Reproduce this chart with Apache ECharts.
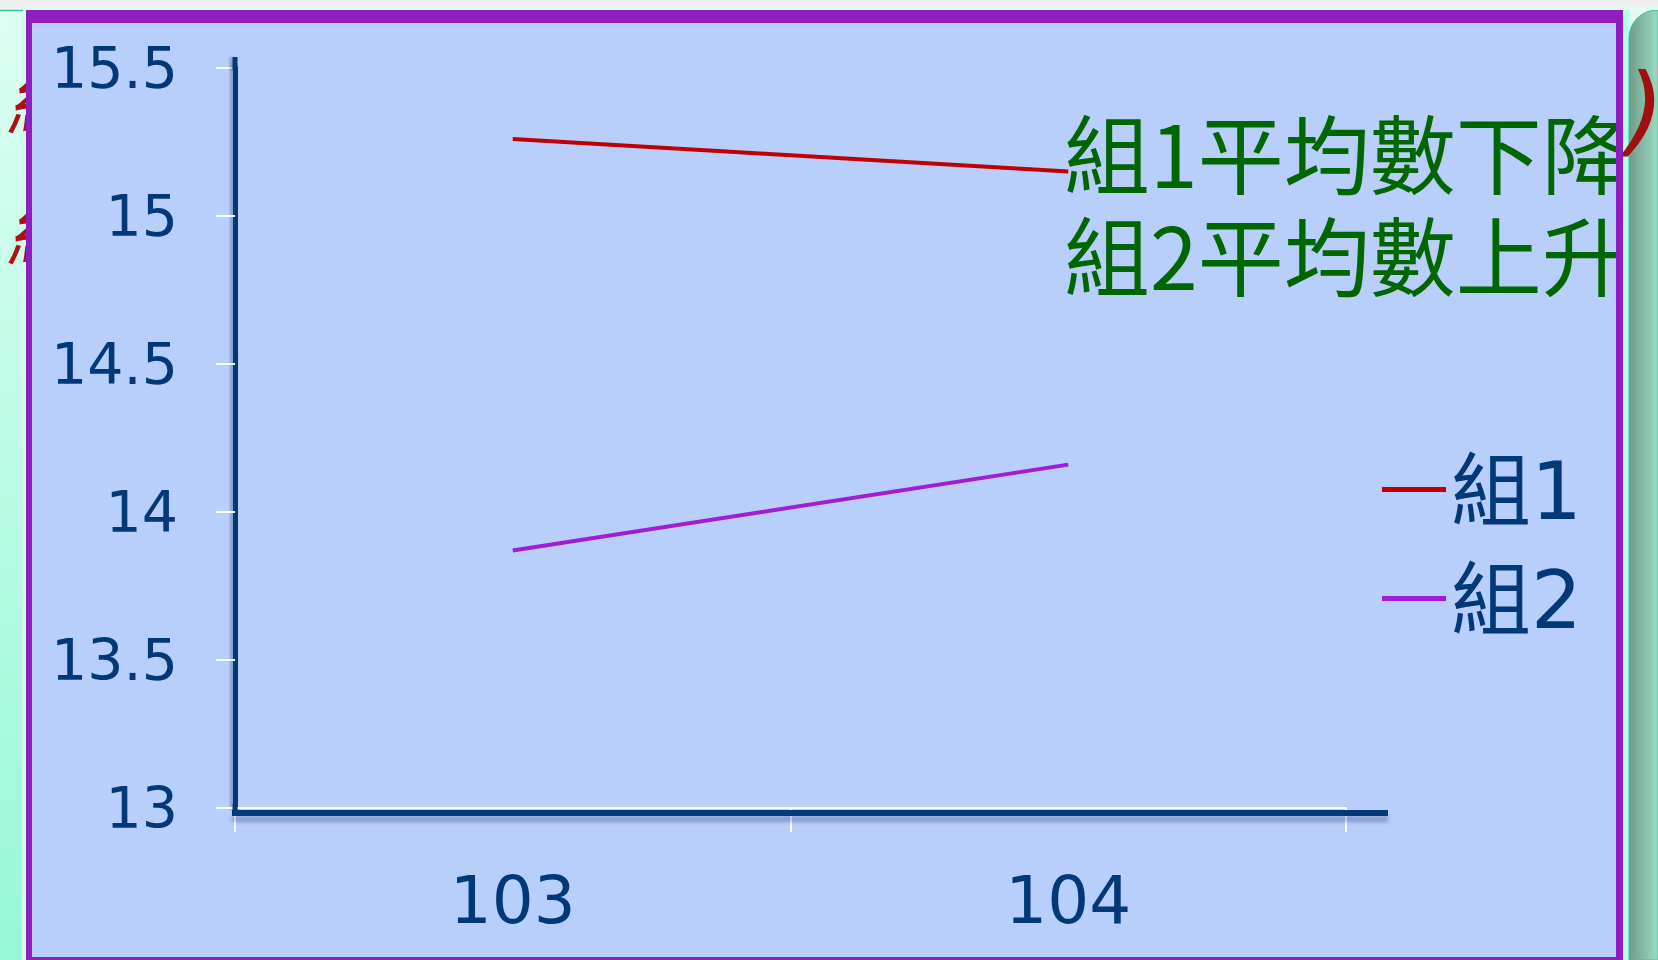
<!DOCTYPE html>
<html>
<head>
<meta charset="utf-8">
<script src="https://cdn.jsdelivr.net/npm/echarts@6/dist/echarts.min.js"></script>
<style>
html,body{margin:0;padding:0;background:#E4FAF0;}
#c{width:1658px;height:960px;}
</style>
</head>
<body>
<div id="c"></div>
<script>
// ---- data ----
const categories = ['103', '104'];
const seriesNames = ['組1', '組2'];
const group1 = [15.26, 15.15];
const group2 = [13.87, 14.16];
const yMin = 13, yMax = 15.5, yStep = 0.5;
const annotationLines = ['組1平均數下降', '組2平均數上升'];

const AXIS = '#003878';
const chart = echarts.init(document.getElementById('c'), null, {renderer: 'canvas'});

const option = {
  animation: false,
  backgroundColor: '#E4FAF0',
  grid: {left: 235, top: 68, width: 1111, height: 740, containLabel: false},
  xAxis: {
    type: 'category',
    data: categories,
    boundaryGap: true,
    axisLine: {show: true, lineStyle: {color: '#FFFFFF', width: 2}},
    axisTick: {show: true, length: 24, lineStyle: {color: '#FFFFFF', width: 2}},
    axisLabel: {fontSize: 66, fontFamily: 'DejaVu Sans', color: AXIS, margin: 65},
    splitLine: {show: false}
  },
  yAxis: {
    type: 'value',
    min: yMin, max: yMax, interval: yStep,
    axisLine: {show: true, lineStyle: {color: AXIS, width: 5,
      shadowColor: 'rgba(0,30,90,0.25)', shadowOffsetX: -3, shadowBlur: 2}},
    axisTick: {show: true, length: 19, lineStyle: {color: '#FFFFFF', width: 2}},
    axisLabel: {fontSize: 57, fontFamily: 'DejaVu Sans', color: AXIS, margin: 57,
      verticalAlign: 'top', lineHeight: 11},
    splitLine: {show: false}
  },
  legend: {
    orient: 'vertical',
    left: 1377, top: 439,
    // bar drawn at the top of a taller (invisible) icon box so the text sits a little lower
    icon: 'path://M0 0H64V5H0Z M0 23H64V23H0Z',
    itemWidth: 64, itemHeight: 23, itemGap: 0,
    textStyle: {fontSize: 80, fontFamily: "'DejaVu Sans', 'Noto Sans CJK TC'", color: AXIS, lineHeight: 109},
    data: seriesNames
  },
  series: [
    {name: seriesNames[0], type: 'line', data: group1, symbol: 'none', showSymbol: false,
     lineStyle: {color: '#C00000', width: 4}, itemStyle: {color: '#C00000'}, z: 2},
    {name: seriesNames[1], type: 'line', data: group2, symbol: 'none', showSymbol: false,
     lineStyle: {color: '#A21BD6', width: 4}, itemStyle: {color: '#A21BD6'}, z: 2}
  ],
  graphic: [
    // left slide strip
    {type: 'rect', z: -10, shape: {x: 0, y: 10, width: 26, height: 950},
     style: {fill: new echarts.graphic.LinearGradient(0, 0, 0, 1, [
       {offset: 0, color: '#DCFFF2'}, {offset: 1, color: '#96F8D6'}])}},
    {type: 'rect', z: -9, shape: {x: 22, y: 10, width: 4, height: 950}, style: {fill: '#D2FCEC'}},
    {type: 'line', z: -9, shape: {x1: 0, y1: 10.5, x2: 23, y2: 10.5}, style: {stroke: '#30C8A0', lineWidth: 1.5}},
    // red slide text behind the panel
    {type: 'text', z: -8, style: {text: '組', x: 6, y: 62, font: 'italic 76px "Noto Sans CJK TC"', fill: '#B01010'}},
    {type: 'text', z: -8, style: {text: '組', x: 6, y: 193, font: 'italic 76px "Noto Sans CJK TC"', fill: '#B01010'}},
    // panel
    {type: 'rect', z: -5, shape: {x: 26, y: 10, width: 1597, height: 950}, style: {fill: '#B8CEFB'}},
    // annotation
    {type: 'text', z: 1, style: {text: annotationLines.join('\n'), x: 1064, y: 104,
      font: '86px "Noto Sans CJK TC"', lineHeight: 102, fill: '#006600', verticalAlign: 'top'}},
    // dark axis lines
    {type: 'line', z: 3, shape: {x1: 235, y1: 57, x2: 235, y2: 70},
     style: {stroke: AXIS, lineWidth: 5, shadowColor: 'rgba(0,30,90,0.25)', shadowOffsetX: -3, shadowBlur: 2}},
    {type: 'line', z: 3, shape: {x1: 235, y1: 804, x2: 235, y2: 813}, style: {stroke: AXIS, lineWidth: 5}},
    {type: 'line', z: 3, shape: {x1: 232, y1: 813, x2: 1388, y2: 813},
     style: {stroke: AXIS, lineWidth: 6, shadowColor: 'rgba(0,30,90,0.3)', shadowOffsetY: 6, shadowBlur: 4}},
    // right slide strip
    {type: 'rect', z: 10, shape: {x: 1623, y: 10, width: 6, height: 950}, style: {fill: '#B4FFE6'}},
    {type: 'rect', z: 10, shape: {x: 1629, y: 10, width: 29, height: 950, r: [28, 0, 0, 0]},
     style: {fill: new echarts.graphic.LinearGradient(0, 0, 1, 0, [
       {offset: 0, color: '#6F9B89'}, {offset: 1, color: '#9CDCC4'}]), stroke: '#30C8A0', lineWidth: 1}},
    {type: 'text', z: 11, style: {text: ')', x: 1626, y: 70, font: 'italic 98px "DejaVu Sans"', fill: '#A01010'}},
    // top strip
    {type: 'rect', z: 10, shape: {x: 0, y: 0, width: 1658, height: 7}, style: {fill: '#EEF1F0'}},
    {type: 'rect', z: 10, shape: {x: 23, y: 7, width: 1635, height: 3}, style: {fill: '#E0FFF4'}},
    // purple frame
    {type: 'rect', z: 12, shape: {x: 26, y: 10, width: 1597, height: 13}, style: {fill: '#8F1DC2'}},
    {type: 'rect', z: 12, shape: {x: 26, y: 10, width: 6, height: 950}, style: {fill: '#8F1DC2'}},
    {type: 'rect', z: 12, shape: {x: 1616, y: 10, width: 7, height: 950}, style: {fill: '#8F1DC2'}},
    {type: 'rect', z: 12, shape: {x: 26, y: 957, width: 1597, height: 3}, style: {fill: '#8F1DC2'}}
  ]
};
chart.setOption(option);
</script>
</body>
</html>
